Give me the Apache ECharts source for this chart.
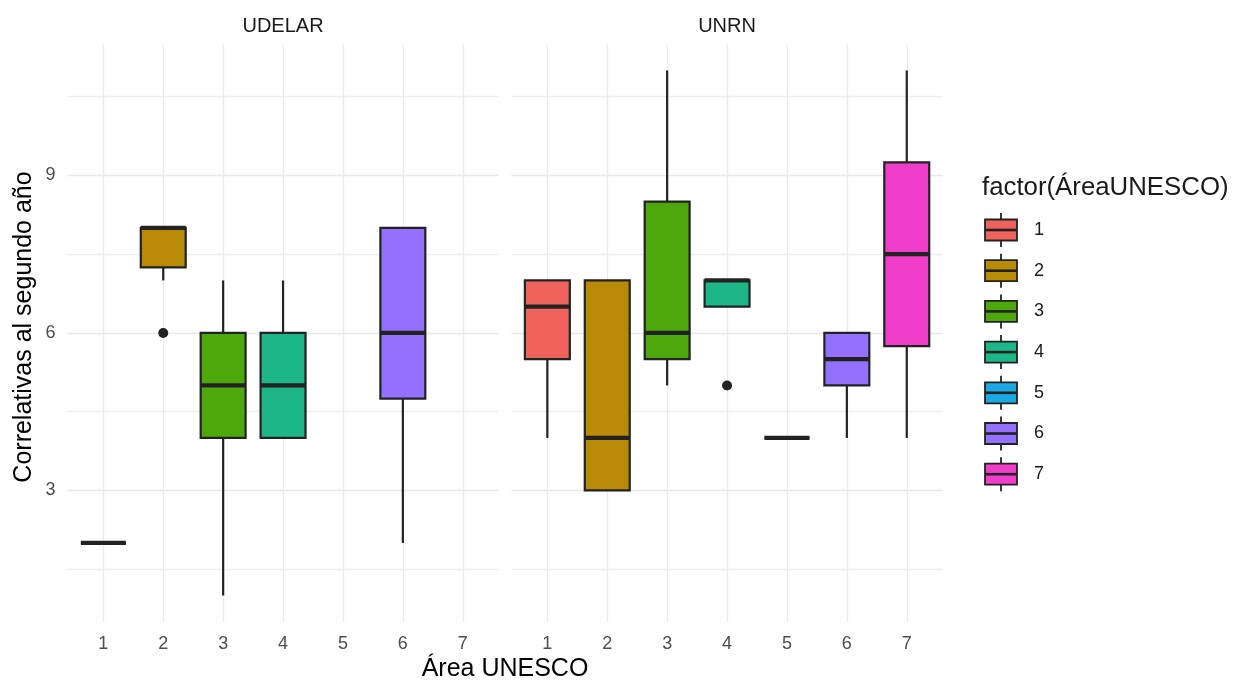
<!DOCTYPE html>
<html>
<head>
<meta charset="utf-8">
<script src="https://cdn.jsdelivr.net/npm/echarts@6/dist/echarts.min.js"></script>
<style>
html,body{margin:0;padding:0;background:#fff;}
#chart{width:1233px;height:680px;}
</style>
</head>
<body>
<div id="chart"></div>
<script>
// ---- data ----
const categories = ['1','2','3','4','5','6','7'];
const panels = ['UDELAR','UNRN'];
// [area, lower whisker, Q1, median, Q3, upper whisker]
const udelarBoxes = [
  [1, 2, 2, 2, 2, 2],
  [2, 7, 7.25, 8, 8, 8],
  [3, 1, 4, 5, 6, 7],
  [4, 4, 4, 5, 6, 7],
  [6, 2, 4.75, 6, 8, 8]
];
const unrnBoxes = [
  [1, 4, 5.5, 6.5, 7, 7],
  [2, 3, 3, 4, 7, 7],
  [3, 5, 5.5, 6, 8.5, 11],
  [4, 6.5, 6.5, 7, 7, 7],
  [5, 4, 4, 4, 4, 4],
  [6, 4, 5, 5.5, 6, 6],
  [7, 4, 5.75, 7.5, 9.25, 11]
];
const udelarOutliers = [[2, 6]];
const unrnOutliers = [[4, 5]];
const xTicks = [1, 2, 3, 4, 5, 6, 7];
const yTickLabels = [3, 6, 9];
const yGridValues = [1.5, 3, 4.5, 6, 7.5, 9, 10.5];
const colors = ['#F0625C', '#B88A06', '#4DA80C', '#1DB688', '#1AA9E2', '#9470FF', '#F03ECB'];

// ---- styling ----
const FONT = "'Liberation Sans', Arial, sans-serif";
const INK = '#222222';
const GRID_W = 431.3;
const gridLefts = [67.4, 511.4];
const GRID_TOP = 44.2;
const GRID_H = 577.5;

function renderBox(params, api) {
  const x = api.value(0);
  const lo = api.coord([x, api.value(1)]);
  const q1 = api.coord([x, api.value(2)]);
  const md = api.coord([x, api.value(3)]);
  const q3 = api.coord([x, api.value(4)]);
  const hi = api.coord([x, api.value(5)]);
  const w = api.size([0.75, 0])[0];
  const fill = colors[x - 1];
  return {
    type: 'group',
    children: [
      {type: 'line', shape: {x1: lo[0], y1: lo[1], x2: q1[0], y2: q1[1]}, style: {stroke: INK, lineWidth: 2.2}},
      {type: 'line', shape: {x1: q3[0], y1: q3[1], x2: hi[0], y2: hi[1]}, style: {stroke: INK, lineWidth: 2.2}},
      {type: 'rect', shape: {x: q3[0] - w / 2, y: q3[1], width: w, height: q1[1] - q3[1]},
       style: {fill: fill, stroke: INK, lineWidth: 2.2}},
      {type: 'line', shape: {x1: md[0] - w / 2, y1: md[1], x2: md[0] + w / 2, y2: md[1]},
       style: {stroke: INK, lineWidth: 4.2}}
    ]
  };
}

const grids = gridLefts.map(l => ({left: l, top: GRID_TOP, width: GRID_W, height: GRID_H}));

const xAxes = [0, 1].map(i => ({
  type: 'value', gridIndex: i, min: 0.4, max: 7.6,
  axisLine: {show: false},
  axisTick: {show: false, customValues: xTicks},
  axisLabel: {customValues: xTicks, color: '#4D4D4D', fontSize: 18, fontFamily: FONT, margin: 13},
  splitLine: {show: true, lineStyle: {color: '#EBEBEB', width: 1.3}}
}));

const yAxes = [0, 1].map(i => ({
  type: 'value', gridIndex: i, min: 0.5, max: 11.5,
  axisLine: {show: false},
  axisTick: {show: false, customValues: yGridValues},
  axisLabel: {show: i === 0, customValues: yTickLabels, color: '#4D4D4D', fontSize: 18, fontFamily: FONT, margin: 12},
  splitLine: {show: true, lineStyle: {color: ['#EFEFEF', '#E8E8E8'], width: 1.3}}
}));

const boxSets = [udelarBoxes, unrnBoxes];
const outlierSets = [udelarOutliers, unrnOutliers];
const series = [];
[0, 1].forEach(i => {
  series.push({
    type: 'custom', xAxisIndex: i, yAxisIndex: i,
    renderItem: renderBox,
    encode: {x: 0, y: [1, 2, 3, 4, 5]},
    data: boxSets[i], silent: true
  });
  series.push({
    type: 'scatter', xAxisIndex: i, yAxisIndex: i,
    symbolSize: 10, itemStyle: {color: INK, opacity: 1},
    data: outlierSets[i], silent: true
  });
});

// legend drawn with graphic elements
const legendGraphics = [];
const LX = 1001, LY0 = 230, LDY = 40.7;
legendGraphics.push({
  type: 'text', left: 982, top: 175,
  style: {text: 'factor(ÁreaUNESCO)', fontSize: 25.8, fontFamily: FONT, fill: '#1A1A1A'}
});
categories.forEach((c, k) => {
  const cy = LY0 + k * LDY;
  legendGraphics.push({type: 'line', shape: {x1: LX, y1: cy - 17, x2: LX, y2: cy + 17}, style: {stroke: INK, lineWidth: 1.8}});
  legendGraphics.push({type: 'rect', shape: {x: LX - 16, y: cy - 10.5, width: 32, height: 21},
    style: {fill: colors[k], stroke: INK, lineWidth: 1.8}});
  legendGraphics.push({type: 'line', shape: {x1: LX - 16, y1: cy, x2: LX + 16, y2: cy}, style: {stroke: INK, lineWidth: 2.6}});
  legendGraphics.push({type: 'text', x: 1034, y: cy, style: {text: c, fontSize: 18, fontFamily: FONT, fill: '#1A1A1A', verticalAlign: 'middle'}});
});

const textGraphics = [
  {type: 'text', x: gridLefts[0] + GRID_W / 2, y: 26, style: {text: panels[0], fontSize: 20, fontFamily: FONT, fill: '#1A1A1A', align: 'center', verticalAlign: 'middle'}},
  {type: 'text', x: gridLefts[1] + GRID_W / 2, y: 26, style: {text: panels[1], fontSize: 20, fontFamily: FONT, fill: '#1A1A1A', align: 'center', verticalAlign: 'middle'}},
  {type: 'text', x: 505, y: 669, style: {text: 'Área UNESCO', fontSize: 25, fontFamily: FONT, fill: '#000', align: 'center', verticalAlign: 'middle'}},
  {type: 'text', x: 24, y: 327, rotation: Math.PI / 2, style: {text: 'Correlativas al segundo año', fontSize: 25, fontFamily: FONT, fill: '#000', align: 'center', verticalAlign: 'middle'}}
];

const chart = echarts.init(document.getElementById('chart'), null, {renderer: 'canvas'});
chart.setOption({
  animation: false,
  backgroundColor: '#fff',
  grid: grids,
  xAxis: xAxes,
  yAxis: yAxes,
  series: series,
  graphic: textGraphics.concat(legendGraphics)
});
</script>
</body>
</html>
